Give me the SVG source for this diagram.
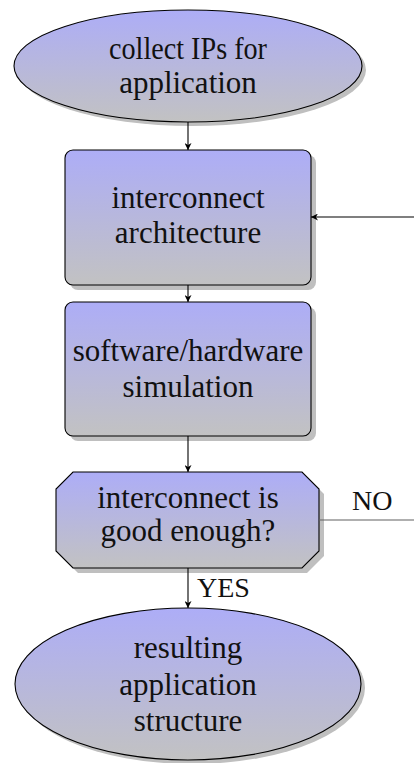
<svg xmlns="http://www.w3.org/2000/svg" width="414" height="763" viewBox="0 0 414 763">
<style>
.shape{fill:url(#g);stroke:#000;stroke-width:1.1}
.shadow{fill:#bfbfbf}
.t{font-family:"Liberation Serif","Times New Roman",serif;font-size:31px;fill:#111;text-anchor:middle}
.lbl{font-family:"Liberation Serif","Times New Roman",serif;font-size:28px;fill:#111}
.c{stroke:#000;stroke-width:1.1;fill:none}
</style>
<defs>
<linearGradient id="g" x1="0" y1="0" x2="0" y2="1">
<stop offset="0" stop-color="#adadf7"/>
<stop offset="1" stop-color="#c2c2c2"/>
</linearGradient>
<marker id="ah" viewBox="0 0 10 10" refX="10" refY="5" markerWidth="7" markerHeight="7" markerUnits="userSpaceOnUse" orient="auto">
<path d="M0,0 L10,5 L0,10 L3,5 Z" fill="#000"/>
</marker>
</defs>
<g id="n1">
<ellipse class="shadow" cx="192" cy="70" rx="174" ry="56"/>
<ellipse class="shape" cx="188" cy="66" rx="174" ry="56"/>
<text class="t" x="188" y="59" textLength="158" lengthAdjust="spacingAndGlyphs">collect IPs for</text>
<text class="t" x="188" y="93">application</text>
</g>
<g id="n2">
<rect class="shadow" x="70" y="155" width="246" height="135" rx="8"/>
<rect class="shape" x="65" y="150" width="246" height="135" rx="8"/>
<text class="t" x="188" y="208">interconnect</text>
<text class="t" x="188" y="243">architecture</text>
</g>
<g id="n3">
<rect class="shadow" x="70" y="307" width="246" height="134" rx="8"/>
<rect class="shape" x="65" y="302" width="246" height="134" rx="8"/>
<text class="t" x="188" y="361">software/hardware</text>
<text class="t" x="188" y="397">simulation</text>
</g>
<g id="n4">
<polygon class="shadow" points="78,477 307,477 324,494 324,556 307,573 78,573 61,556 61,494"/>
<polygon class="shape" points="73,472 302,472 319,489 319,551 302,568 73,568 56,551 56,489"/>
<text class="t" x="188" y="508">interconnect is</text>
<text class="t" x="188" y="541">good enough?</text>
</g>
<g id="n5">
<ellipse class="shadow" cx="192" cy="688" rx="173" ry="76"/>
<ellipse class="shape" cx="188" cy="684" rx="173" ry="76"/>
<text class="t" x="188" y="658">resulting</text>
<text class="t" x="188" y="695">application</text>
<text class="t" x="188" y="731">structure</text>
</g>
<g id="connectors">
<line class="c" x1="188" y1="122" x2="188" y2="150" marker-end="url(#ah)"/>
<line class="c" x1="188" y1="285" x2="188" y2="302" marker-end="url(#ah)"/>
<line class="c" x1="188" y1="436" x2="188" y2="472" marker-end="url(#ah)"/>
<line class="c" x1="188" y1="568" x2="188" y2="608" marker-end="url(#ah)"/>
<line class="c" x1="414" y1="217" x2="311" y2="217" marker-end="url(#ah)"/>
<line x1="319" y1="520" x2="414" y2="520" stroke="#606060" stroke-width="1.2"/>
<text class="lbl" x="197" y="597">YES</text>
<text class="lbl" x="352" y="510">NO</text>
</g>
</svg>
